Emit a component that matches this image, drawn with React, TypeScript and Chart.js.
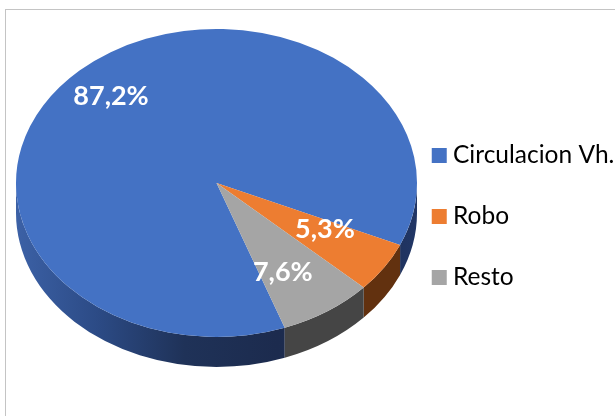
import React, { useEffect, useRef } from "react";
import { Chart, registerables } from "chart.js";

Chart.register(...registerables);

// ---- data ----
const categories = ["Circulacion Vh.", "Robo", "Resto"];
const shares = [87.2, 5.3, 7.6];
const topColors = ["#4472C4", "#ED7D31", "#A5A5A5"];
const sideColors = ["blue-gradient", "#62310F", "#454545"];
const labelRadius = [0.77, 0.62, 0.67];
const labelAngleShift = [0, -4, 4];

// ---- layout / style constants ----
const CANVAS_W = 700;
const CANVAS_H = 416;
const PIE = { cx: 216.5, cy: 183, rx: 200.5, ry: 154, depth: 30 };
const LEGEND_FONT = 24.5;
const LEGEND_TEXT_X = 453;
const FONT_FAMILY = "Lato, 'Open Sans', sans-serif";

const fmt = (v: number) => v.toFixed(1).replace(".", ",") + "%";

function visibleSegments(a1: number, a2: number): [number, number][] {
  const out: [number, number][] = [];
  for (let k = -2; k <= 3; k++) {
    const lo = Math.max(a1, 2 * Math.PI * k);
    const hi = Math.min(a2, 2 * Math.PI * k + Math.PI);
    if (hi > lo) out.push([lo, hi]);
  }
  return out;
}

const pie3d = {
  id: "pie3d",
  beforeDatasetsDraw(chart: any) {
    const ctx: CanvasRenderingContext2D = chart.ctx;
    const arcs = chart.getDatasetMeta(0).data;
    if (!arcs.length) return;
    const a0 = arcs[0];
    const R = a0.outerRadius;
    ctx.save();
    const grad = ctx.createLinearGradient(PIE.cx - PIE.rx, 0, PIE.cx + PIE.rx, 0);
    grad.addColorStop(0, "#3C61A6");
    grad.addColorStop(0.2, "#2C4B86");
    grad.addColorStop(0.42, "#1F3258");
    grad.addColorStop(0.65, "#1C2B4E");
    grad.addColorStop(0.88, "#1D2E54");
    grad.addColorStop(1, "#213666");
    arcs.forEach((arc: any, i: number) => {
      visibleSegments(arc.startAngle, arc.endAngle).forEach(([b1, b2]) => {
        ctx.beginPath();
        ctx.ellipse(PIE.cx, PIE.cy, PIE.rx, PIE.ry, 0, b1, b2);
        ctx.ellipse(PIE.cx, PIE.cy + PIE.depth, PIE.rx, PIE.ry, 0, b2, b1, true);
        ctx.closePath();
        ctx.fillStyle = sideColors[i] === "blue-gradient" ? grad : sideColors[i];
        ctx.fill();
      });
    });
    ctx.restore();
    ctx.save();
    ctx.translate(PIE.cx, PIE.cy);
    ctx.scale(PIE.rx / R, PIE.ry / R);
    ctx.translate(-a0.x, -a0.y);
  },
  afterDatasetsDraw(chart: any) {
    const ctx: CanvasRenderingContext2D = chart.ctx;
    const arcs = chart.getDatasetMeta(0).data;
    if (!arcs.length) return;
    ctx.restore();
    ctx.save();
    ctx.fillStyle = "#FFFFFF";
    ctx.font = `bold 27px ${FONT_FAMILY}`;
    ctx.textAlign = "center";
    ctx.textBaseline = "middle";
    arcs.forEach((arc: any, i: number) => {
      const mid = (arc.startAngle + arc.endAngle) / 2 + (labelAngleShift[i] * Math.PI) / 180;
      const f = labelRadius[i];
      const x = PIE.cx + PIE.rx * f * Math.cos(mid);
      const y = PIE.cy + PIE.ry * f * Math.sin(mid);
      ctx.fillText(fmt(shares[i]), x, y);
    });
    ctx.restore();
  },
};

export default function App() {
  const ref = useRef<HTMLCanvasElement | null>(null);
  useEffect(() => {
    const canvas = ref.current!;
    const mctx = canvas.getContext("2d")!;
    mctx.font = `${LEGEND_FONT}px ${FONT_FAMILY}`;
    const maxW = Math.max(...categories.map((c) => mctx.measureText(c).width));
    const padRight = CANVAS_W - (LEGEND_TEXT_X + maxW + 10);
    const chart = new Chart(canvas, {
      type: "pie",
      data: {
        labels: categories,
        datasets: [
          {
            data: shares,
            backgroundColor: topColors,
            borderWidth: 0,
            hoverOffset: 0,
          },
        ],
      },
      options: {
        responsive: false,
        animation: false,
        devicePixelRatio: 1,
        rotation: 160.1,
        layout: { padding: { top: 17, bottom: 0, left: 0, right: padRight } },
        plugins: {
          tooltip: { enabled: false },
          legend: {
            position: "right",
            labels: {
              usePointStyle: true,
              pointStyle: "rect",
              boxWidth: 3,
              boxHeight: 15,
              padding: 61 - LEGEND_FONT,
              color: "#000000",
              font: { family: FONT_FAMILY, size: LEGEND_FONT },
            },
          },
        },
      },
      plugins: [pie3d],
    });
    return () => chart.destroy();
  }, []);
  return (
    <div
      style={{
        position: "absolute",
        left: 0,
        top: 0,
        width: 615,
        height: 416,
        overflow: "hidden",
        background: "#FFFFFF",
      }}
    >
      <div
        style={{
          position: "absolute",
          left: 5,
          top: 9,
          width: 700,
          height: 500,
          border: "1px solid #C4C4C4",
        }}
      />
      <canvas
        ref={ref}
        width={CANVAS_W}
        height={CANVAS_H}
        style={{ position: "absolute", left: 0, top: 0, display: "block" }}
      />
    </div>
  );
}
